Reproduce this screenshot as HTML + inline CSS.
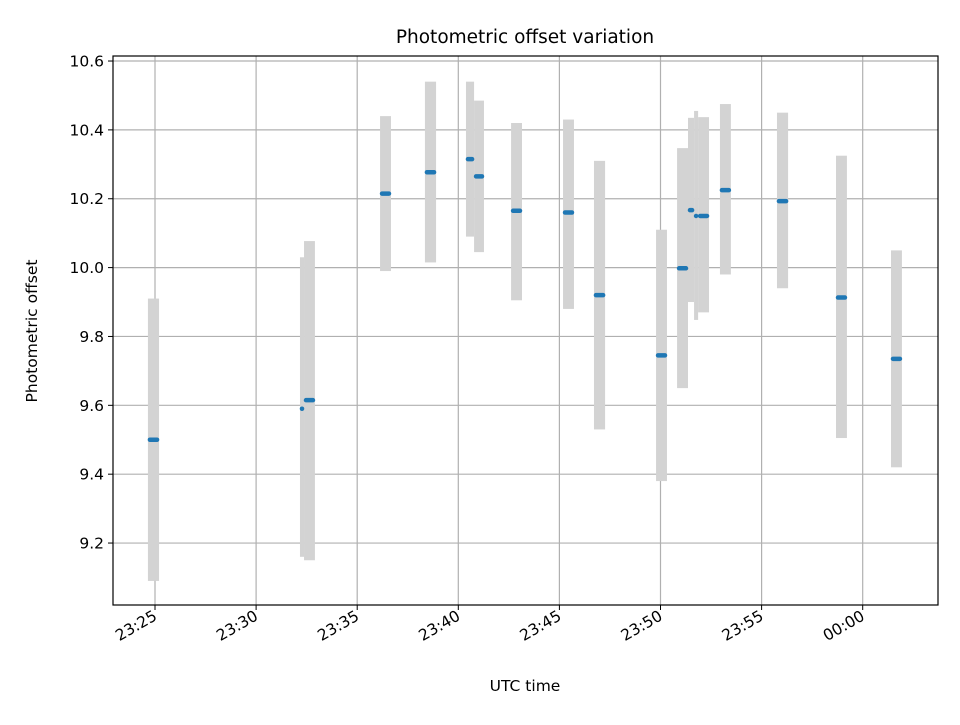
<!DOCTYPE html>
<html><head><meta charset="utf-8"><style>
body{margin:0;background:#fff;}
svg text{font-family:"DejaVu Sans","Liberation Sans",sans-serif;fill:#000;}
</style></head><body>
<svg id="chart" width="960" height="720" xmlns="http://www.w3.org/2000/svg">
<rect width="960" height="720" fill="#fff"/>
<g id="grid"></g>
<g id="bars"></g>
<g id="pts"></g>
<rect x="113" y="56" width="825" height="549" fill="none" stroke="#000" stroke-width="1.2"/>
<g id="ticks"></g>
<text x="525" y="43" font-size="18.5" text-anchor="middle">Photometric offset variation</text>
<text x="525" y="691" font-size="15.5" text-anchor="middle">UTC time</text>
<text x="37" y="331" font-size="15.5" text-anchor="middle" transform="rotate(-90 37 331)">Photometric offset</text>
</svg>
<script>
// minutes after 23:00
const startMin=[24.65,32.17,32.37,36.13,38.35,40.38,40.78,42.61,45.18,46.71,49.78,50.82,51.36,51.66,51.86,52.94,55.76,58.68,61.40];
const endMin=[25.20,32.37,32.91,36.67,38.90,40.78,41.27,43.15,45.72,47.26,50.32,51.36,51.66,51.86,52.40,53.48,56.31,59.22,61.94];
const values=[9.50,9.59,9.615,10.215,10.277,10.315,10.265,10.165,10.16,9.92,9.745,9.998,10.167,10.15,10.15,10.225,10.193,9.913,9.735];
const lows=[9.09,9.16,9.15,9.99,10.015,10.09,10.045,9.905,9.88,9.53,9.38,9.65,9.90,9.848,9.87,9.98,9.94,9.505,9.42];
const highs=[9.91,10.03,10.077,10.44,10.54,10.54,10.485,10.42,10.43,10.31,10.11,10.347,10.435,10.455,10.437,10.475,10.45,10.325,10.05];
const xTickMin=[25,30,35,40,45,50,55,60];
const xTickLabels=["23:25","23:30","23:35","23:40","23:45","23:50","23:55","00:00"];
const yTicks=[9.2,9.4,9.6,9.8,10.0,10.2,10.4,10.6];
const yTickLabels=["9.2","9.4","9.6","9.8","10.0","10.2","10.4","10.6"];

const NS="http://www.w3.org/2000/svg";
const X=m=>155+(m-25)*20.22;
const Y=v=>611.9-(v-9.0)*344.3;
function mk(tag,attrs,parent){const e=document.createElementNS(NS,tag);for(const k in attrs)e.setAttribute(k,attrs[k]);document.getElementById(parent).appendChild(e);return e;}
xTickMin.forEach((m,i)=>{
  const g=mk('line',{x1:X(m),x2:X(m),y1:56,y2:605,stroke:'#b0b0b0','stroke-width':1.2},'grid');
  
  
  const t=mk('line',{x1:X(m),x2:X(m),y1:605,y2:610,stroke:'#000','stroke-width':1},'ticks');
  
  
  const lx=X(m)+3,ly=619;
  const l=mk('text',{x:lx,y:ly,'font-size':15.5,'text-anchor':'end',transform:`rotate(-30 ${lx} ${ly})`},'ticks');
  l.textContent=xTickLabels[i];
  
  
});
yTicks.forEach((v,i)=>{
  const g=mk('line',{x1:113,x2:938,y1:Y(v),y2:Y(v),stroke:'#b0b0b0','stroke-width':1.2},'grid');
  
  
  const t=mk('line',{x1:108,x2:113,y1:Y(v),y2:Y(v),stroke:'#000','stroke-width':1},'ticks');
  
  
  const l=mk('text',{x:104,y:Y(v)+5.5,'font-size':15.5,'text-anchor':'end'},'ticks');
  l.textContent=yTickLabels[i];
  
  
});
values.forEach((v,i)=>{
  const x0=X(startMin[i]),x1=X(endMin[i]);
  const r=mk('rect',{x:x0,y:Y(highs[i]),width:x1-x0,height:Y(lows[i])-Y(highs[i]),fill:'#d3d3d3'},'bars');
  
  
});
values.forEach((v,i)=>{
  const x0=X(startMin[i])+2,x1=Math.max(X(endMin[i])-2,x0);
  const p=mk('line',{x1:x0,x2:x1,y1:Y(v),y2:Y(v),stroke:'#1f77b4','stroke-width':4.5,'stroke-linecap':'round'},'pts');
  
  
});
</script>
</body></html>
